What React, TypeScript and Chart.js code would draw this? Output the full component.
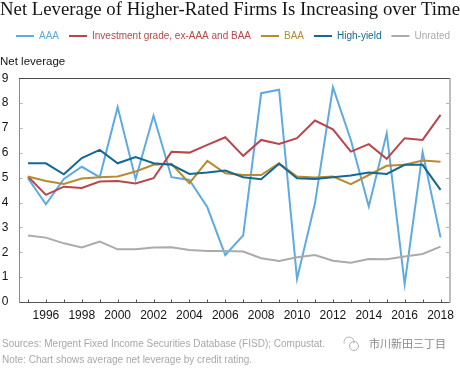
import React, { useEffect, useRef } from 'react';
import { Chart, registerables } from 'chart.js';

Chart.register(...registerables);

const years = ['1995', '1996', '1997', '1998', '1999', '2000', '2001', '2002', '2003', '2004', '2005', '2006',
  '2007', '2008', '2009', '2010', '2011', '2012', '2013', '2014', '2015', '2016', '2017', '2018'];

const aaa = [4.98, 3.93, 4.95, 5.44, 5.02, 7.84, 4.94, 7.50, 5.02, 4.91, 3.81, 1.89,
  2.68, 8.40, 8.54, 0.93, 3.97, 8.64, 6.52, 3.84, 6.79, 0.72, 6.03, 2.60];
const investmentGrade = [5.05, 4.31, 4.64, 4.59, 4.85, 4.87, 4.77, 4.98, 6.04, 6.01, 6.32, 6.63,
  5.88, 6.52, 6.36, 6.59, 7.30, 6.95, 6.05, 6.35, 5.76, 6.59, 6.52, 7.53];
const baa = [5.05, 4.87, 4.75, 4.97, 5.02, 5.05, 5.25, 5.52, 5.56, 4.78, 5.68, 5.18,
  5.11, 5.11, 5.58, 5.05, 5.01, 5.05, 4.74, 5.11, 5.48, 5.52, 5.69, 5.64];
const highYield = [5.58, 5.58, 5.14, 5.79, 6.12, 5.58, 5.83, 5.58, 5.52, 5.15, 5.21, 5.29,
  5.02, 4.94, 5.56, 4.98, 4.95, 5.02, 5.09, 5.21, 5.15, 5.52, 5.52, 4.51];
const unrated = [2.68, 2.59, 2.36, 2.19, 2.43, 2.12, 2.12, 2.19, 2.20, 2.09, 2.05, 2.05,
  2.03, 1.76, 1.65, 1.80, 1.89, 1.66, 1.58, 1.73, 1.72, 1.83, 1.93, 2.23];

const seriesNames = ['AAA', 'Investment grade, ex-AAA and BAA', 'BAA', 'High-yield', 'Unrated'];
const seriesColors = ['#5eaae2', '#b8464a', '#b98a30', '#13698f', '#ababab'];
const seriesValues = [aaa, investmentGrade, baa, highYield, unrated];

const yTickValues = [0, 1, 2, 3, 4, 5, 6, 7, 8, 9];

const titleText = 'Net Leverage of Higher-Rated Firms Is Increasing over Time';
const yAxisTitle = 'Net leverage';
const sourceNote = 'Sources: Mergent Fixed Income Securities Database (FISD); Compustat.';
const chartNote = 'Note: Chart shows average net leverage by credit rating.';
const watermark = '市川新田三丁目';

const SANS = '"Liberation Sans", Arial, sans-serif';
const SERIF = '"Liberation Serif", "Times New Roman", serif';

const framePlugin = {
  id: 'frame',
  afterLayout(chart: any) {
    const lg = chart.legend;
    if (lg) {
      lg.left += 6;
      lg.right += 6;
    }
  },
  afterDraw(chart: any) {
    const { ctx, chartArea } = chart;
    const xs = chart.scales.x;
    const ys = chart.scales.y;
    const L = Math.round(chartArea.left) + 0.5;
    const R = Math.round(chartArea.right) + 0.5;
    const T = Math.round(chartArea.top) + 0.5;
    const B = Math.round(chartArea.bottom) + 0.5;
    ctx.save();
    // top border
    ctx.strokeStyle = '#4a4a4a';
    ctx.lineWidth = 1;
    ctx.beginPath();
    ctx.moveTo(L - 0.5, T);
    ctx.lineTo(R + 1, T);
    ctx.stroke();
    // right border
    ctx.strokeStyle = '#bdbdbd';
    ctx.lineWidth = 2;
    ctx.beginPath();
    ctx.moveTo(R + 0.5, T);
    ctx.lineTo(R + 0.5, B);
    ctx.stroke();
    // x ticks (inward)
    ctx.strokeStyle = '#555';
    ctx.lineWidth = 1;
    ctx.beginPath();
    years.forEach((_, i) => {
      const px = Math.round(xs.getPixelForValue(i)) + 0.5;
      ctx.moveTo(px, B);
      ctx.lineTo(px, B - 3);
    });
    ctx.stroke();
    // y ticks both sides (inward)
    ctx.strokeStyle = '#b5b5b5';
    ctx.beginPath();
    yTickValues.forEach((v) => {
      const py = Math.round(ys.getPixelForValue(v)) + 0.5;
      if (v === 0 || v === 9) return;
      ctx.moveTo(L, py);
      ctx.lineTo(L + 3, py);
      ctx.moveTo(R - 0.5, py);
      ctx.lineTo(R - 3.5, py);
    });
    ctx.stroke();

    // footnotes
    ctx.fillStyle = '#a8a8a8';
    ctx.font = '10px ' + SANS;
    ctx.textBaseline = 'middle';
    ctx.textAlign = 'left';
    ctx.fillText(sourceNote, 2, 344);
    ctx.fillText(chartNote, 2, 360);

    // watermark
    ctx.fillStyle = '#8a8a8a';
    ctx.font = '11px "Noto Sans CJK SC", sans-serif';
    ctx.fillText(watermark, 369, 344);
    ctx.strokeStyle = '#b0b0b0';
    ctx.lineWidth = 1;
    ctx.beginPath();
    ctx.arc(349, 342, 5, Math.PI * 0.9, Math.PI * 2.1);
    ctx.stroke();
    ctx.beginPath();
    ctx.arc(354, 346, 4.5, 0, Math.PI * 2);
    ctx.stroke();
    ctx.restore();
  },
};

export default function App() {
  const ref = useRef<HTMLCanvasElement>(null);

  useEffect(() => {
    const canvas = ref.current;
    if (!canvas) return;
    const n = seriesNames.length;
    const chart = new Chart(canvas, {
      type: 'line',
      data: {
        labels: years,
        datasets: seriesNames.map((name, i) => ({
          label: name,
          data: seriesValues[i],
          borderColor: seriesColors[i],
          backgroundColor: seriesColors[i],
          borderWidth: 2,
          pointRadius: 0,
          pointHoverRadius: 0,
          tension: 0,
          fill: false,
          order: n - i,
          yAxisID: 'y',
        })),
      },
      options: {
        responsive: false,
        animation: false,
        devicePixelRatio: 1,
        layout: { padding: 0 },
        plugins: {
          tooltip: { enabled: false },
          title: {
            display: true,
            text: titleText,
            align: 'start',
            color: '#151515',
            font: { family: SERIF, size: 19, weight: 'normal', lineHeight: 1 },
            padding: { top: 1, bottom: 1 },
          },
          legend: {
            display: true,
            position: 'top',
            align: 'start',
            labels: {
              boxWidth: 18,
              boxHeight: 2,
              padding: 10,
              font: { family: SANS, size: 10 },
              sort: (a: any, b: any) => a.datasetIndex - b.datasetIndex,
              generateLabels: (c: any) => {
                const items = Chart.defaults.plugins.legend.labels.generateLabels(c);
                return items.map((it: any) => ({
                  ...it,
                  fillStyle: seriesColors[it.datasetIndex],
                  strokeStyle: seriesColors[it.datasetIndex],
                  fontColor: seriesColors[it.datasetIndex],
                  lineWidth: 0,
                }));
              },
            },
          },
          subtitle: {
            display: true,
            text: yAxisTitle,
            align: 'start',
            position: 'top',
            weight: 500,
            color: '#151515',
            font: { family: SANS, size: 11.5, weight: 'normal', lineHeight: 1.2 },
            padding: { top: 4, bottom: 9.5 },
          },
        },
        scales: {
          x: {
            type: 'category',
            offset: true,
            grid: { display: false, drawTicks: false, tickLength: 0 },
            border: { display: true, color: '#555', width: 1 },
            ticks: {
              autoSkip: false,
              maxRotation: 0,
              minRotation: 0,
              padding: 6,
              color: '#151515',
              font: { family: SANS, size: 12 },
              callback: (_v: any, i: number) => (Number(years[i]) % 2 === 0 ? years[i] : ''),
            },
            afterFit: (s: any) => { s.height = 66; },
          },
          y: {
            type: 'linear',
            position: 'left',
            min: 0,
            max: 9,
            grid: { display: false, drawTicks: false, tickLength: 0 },
            border: { display: true, color: '#8c8c8c', width: 1 },
            ticks: {
              stepSize: 1,
              padding: 10.5,
              color: '#151515',
              font: { family: SANS, size: 12 },
            },
            afterFit: (s: any) => { s.width = 19; },
          },
          yR: {
            type: 'linear',
            position: 'right',
            min: 0,
            max: 9,
            grid: { display: false, drawTicks: false, tickLength: 0 },
            border: { display: false },
            ticks: { display: false },
            afterFit: (s: any) => { s.width = 6; },
          },
        },
      },
      plugins: [framePlugin],
    } as any);
    return () => chart.destroy();
  }, []);

  return (
    <div style={{ position: 'fixed', left: 0, top: 0, width: 460, height: 368, background: '#fff' }}>
      <canvas ref={ref} width={460} height={368} style={{ display: 'block', width: 460, height: 368 }} />
    </div>
  );
}
